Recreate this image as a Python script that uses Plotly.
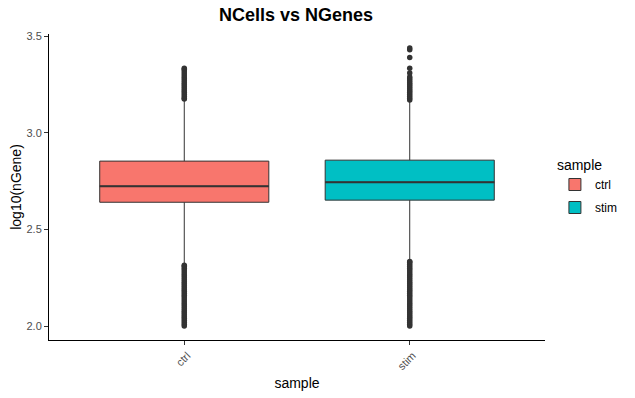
import plotly.graph_objects as go

samples = ["ctrl", "stim"]
colors = ["#F8766D", "#00BFC4"]
q1 = [2.641, 2.652]
median = [2.724, 2.745]
q3 = [2.854, 2.859]
lower_fence = [2.322, 2.342]
upper_fence = [3.168, 3.164]

ctrl_outliers = [2.00, 2.01, 2.02, 2.03, 2.04, 2.05, 2.06, 2.07, 2.08, 2.09, 2.10,
                 2.11, 2.12, 2.13, 2.14, 2.15, 2.16, 2.17, 2.18, 2.19, 2.20, 2.21,
                 2.22, 2.23, 2.24, 2.25, 2.26, 2.27, 2.28, 2.29, 2.30, 2.31, 2.315,
                 3.175, 3.18, 3.19, 3.20, 3.21, 3.22, 3.23, 3.24, 3.25, 3.26, 3.27,
                 3.28, 3.29, 3.30, 3.31, 3.32, 3.33, 3.335]
stim_outliers = [2.00, 2.01, 2.02, 2.03, 2.04, 2.05, 2.06, 2.07, 2.08, 2.09, 2.10,
                 2.11, 2.12, 2.13, 2.14, 2.15, 2.16, 2.17, 2.18, 2.19, 2.20, 2.21,
                 2.22, 2.23, 2.24, 2.25, 2.26, 2.27, 2.28, 2.29, 2.30, 2.31, 2.32,
                 2.33, 2.335,
                 3.17, 3.18, 3.19, 3.20, 3.21, 3.22, 3.23, 3.24, 3.25, 3.26, 3.27,
                 3.28, 3.29, 3.31, 3.335, 3.39, 3.43, 3.44]
outliers = [ctrl_outliers, stim_outliers]

y_ticks = [2.0, 2.5, 3.0, 3.5]
box_width = 0.75
dark = "#333333"

fig = go.Figure()
for i, s in enumerate(samples):
    xpos = i + 1
    fig.add_trace(go.Box(
        x=[xpos], q1=[q1[i]], median=[median[i]], q3=[q3[i]],
        lowerfence=[lower_fence[i]], upperfence=[upper_fence[i]],
        width=box_width, whiskerwidth=0, fillcolor=colors[i],
        line=dict(color=dark, width=1), name=s, boxpoints=False,
        legendgroup=s, hoverinfo="skip",
    ))
    fig.add_trace(go.Scatter(
        x=[xpos - box_width / 2, xpos + box_width / 2], y=[median[i], median[i]],
        mode="lines", line=dict(color=dark, width=2), showlegend=False,
        hoverinfo="skip",
    ))
    fig.add_trace(go.Scatter(
        x=[xpos] * len(outliers[i]), y=outliers[i], mode="markers",
        marker=dict(color=dark, size=5.5), showlegend=False, hoverinfo="skip",
    ))

fig.update_layout(
    width=635, height=398,
    margin=dict(l=49, r=90, t=34, b=58),
    plot_bgcolor="white", paper_bgcolor="white",
    font=dict(family="Liberation Sans, Arial, sans-serif", color="black"),
    title=dict(text="<b>NCells vs NGenes</b>", x=296 / 635, xanchor="center",
               y=1 - 15 / 398, yanchor="middle", font=dict(size=18, color="black"),
               automargin=False),
    showlegend=True,
    legend=dict(title=dict(text="sample", font=dict(size=14)), x=1.02, xanchor="left",
                y=0.615, yanchor="top", font=dict(size=12), tracegroupgap=4,
                bgcolor="rgba(0,0,0,0)"),
    boxmode="overlay",
)
fig.update_xaxes(
    range=[0.4, 2.6], tickvals=[1, 2], ticktext=samples, tickangle=-45,
    showline=True, linecolor="black", linewidth=1, ticks="outside", ticklen=4,
    tickcolor=dark, tickfont=dict(size=11, color="#4D4D4D"), showgrid=False,
    zeroline=False, ticklabelshift=3, automargin=False,
    title=dict(text="sample", font=dict(size=14), standoff=6),
)
fig.update_yaxes(
    range=[1.928, 3.512], tickvals=y_ticks, ticktext=[f"{v:.1f}" for v in y_ticks],
    showline=True, linecolor="black", linewidth=1, ticks="outside", ticklen=4,
    tickcolor=dark, tickfont=dict(size=11, color="#4D4D4D"), showgrid=False,
    zeroline=False, automargin=False,
    title=dict(text="log10(nGene)", font=dict(size=14), standoff=1),
)
fig.write_html("out.html", config={"displayModeBar": False},
               post_script="document.body.style.margin='0';")
